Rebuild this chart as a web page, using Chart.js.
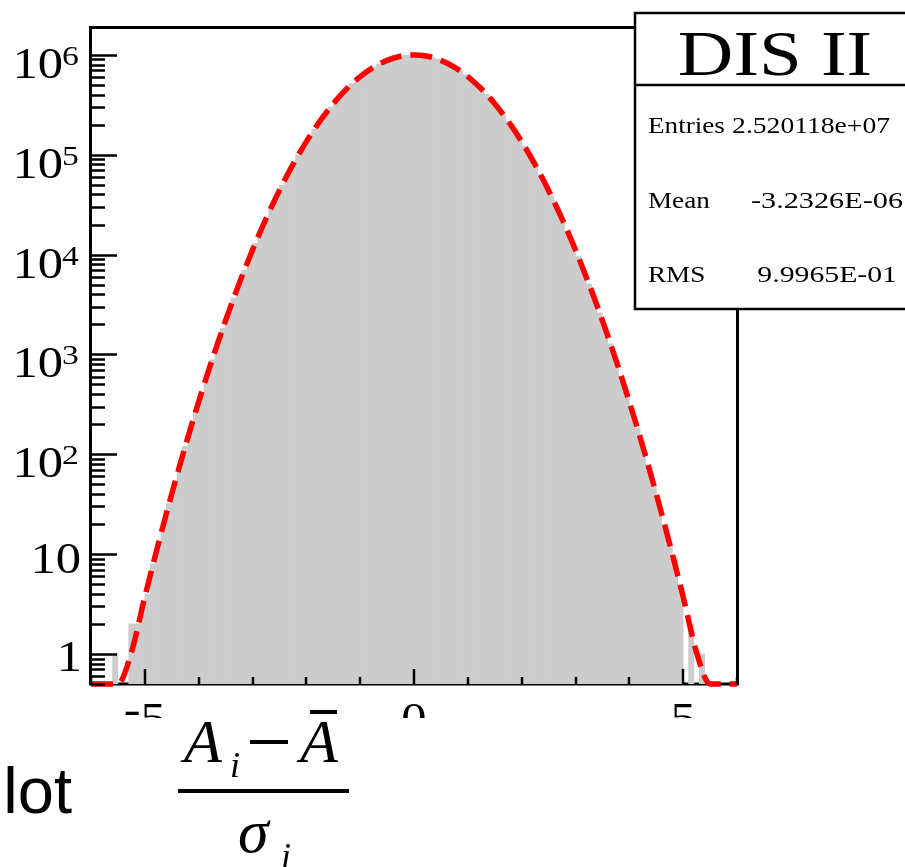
<!DOCTYPE html>
<html>
<head>
<meta charset="utf-8">
<script src="https://cdn.jsdelivr.net/npm/chart.js@4.4.1/dist/chart.umd.min.js"></script>
<style>
  html, body { margin: 0; padding: 0; background: #fff; overflow: hidden; }
  #wrap { width: 905px; height: 867px; position: relative; }
</style>
</head>
<body>
<div id="wrap"><canvas id="distChart" width="905" height="867"></canvas></div>
<script>
// histogram bins (width 0.1), empty bins are null
const binCenters = [
  -5.95, -5.85, -5.75, -5.65, -5.55, -5.45, -5.35, -5.25, -5.15, -5.05,
  -4.95, -4.85, -4.75, -4.65, -4.55, -4.45, -4.35, -4.25, -4.15, -4.05,
  -3.95, -3.85, -3.75, -3.65, -3.55, -3.45, -3.35, -3.25, -3.15, -3.05,
  -2.95, -2.85, -2.75, -2.65, -2.55, -2.45, -2.35, -2.25, -2.15, -2.05,
  -1.95, -1.85, -1.75, -1.65, -1.55, -1.45, -1.35, -1.25, -1.15, -1.05,
  -0.95, -0.85, -0.75, -0.65, -0.55, -0.45, -0.35, -0.25, -0.15, -0.05,
  0.05, 0.15, 0.25, 0.35, 0.45, 0.55, 0.65, 0.75, 0.85, 0.95,
  1.05, 1.15, 1.25, 1.35, 1.45, 1.55, 1.65, 1.75, 1.85, 1.95,
  2.05, 2.15, 2.25, 2.35, 2.45, 2.55, 2.65, 2.75, 2.85, 2.95,
  3.05, 3.15, 3.25, 3.35, 3.45, 3.55, 3.65, 3.75, 3.85, 3.95,
  4.05, 4.15, 4.25, 4.35, 4.45, 4.55, 4.65, 4.75, 4.85, 4.95,
  5.05, 5.15, 5.25, 5.35, 5.45, 5.55, 5.65, 5.75, 5.85, 5.95
];
const binCounts = [
  null, null, null, null, 1, null, null, 2, 2, 3,
  4, 8, 13, 20, 32, 50, 78, 120, 182, 274,
  409, 605, 884, 1280, 1835, 2603, 3657, 5086, 7004, 9552,
  12890, 17230, 22790, 29860, 38730, 49730, 63220, 79560, 99150, 122300,
  149400, 180700, 216300, 256300, 300800, 349500, 402000, 457800, 516200, 576200,
  636900, 696800, 754800, 809600, 859600, 903700, 940600, 969200, 988800, 998800,
  998800, 988800, 969200, 940600, 903700, 859600, 809600, 754800, 696800, 636900,
  576200, 516200, 457800, 402000, 349500, 300800, 256300, 216300, 180700, 149400,
  122300, 99150, 79560, 63220, 49730, 38730, 29860, 22790, 17230, 12890,
  9552, 7004, 5086, 3657, 2603, 1835, 1280, 884, 605, 409,
  274, 182, 120, 78, 50, 32, 20, 13, 9, 5,
  null, 2, null, 1, null, null, null, null, null, null
];

// fitted curve (red dashed), sampled every 0.25
const fitX = [
  -6, -5.75, -5.5, -5.25, -5, -4.75, -4.5, -4.25, -4, -3.75, -3.5, -3.25, -3,
  -2.75, -2.5, -2.25, -2, -1.75, -1.5, -1.25, -1, -0.75, -0.5, -0.25, 0,
  0.25, 0.5, 0.75, 1, 1.25, 1.5, 1.75, 2, 2.25, 2.5, 2.75,
  3, 3.25, 3.5, 3.75, 4, 4.25, 4.5, 4.75, 5, 5.25, 5.5, 5.75, 6
];
const fitY = [
  0.5, 0.5, 0.5, 1.03, 3.73, 12.6, 40.1, 119.6, 335, 884, 2187, 5086, 11110,
  22790, 43940, 79560, 135300, 216300, 324700, 457800, 606500, 754800, 882500, 969200, 1000000,
  969200, 882500, 754800, 606500, 457800, 324700, 216300, 135300, 79560, 43940, 22790,
  11110, 5086, 2187, 884, 335, 119.6, 40.1, 12.6, 3.73, 1.03, 0.5, 0.5, 0.5
];

// axes
const xMin = -6, xMax = 6;
const yMin = 0.5, yMax = 1.86e6;
const xMajorTicks = [-5, 0, 5];
const xMinorTicks = [-6, -5, -4, -3, -2, -1, 0, 1, 2, 3, 4, 5, 6];
const yMajorTicks = [1, 10, 100, 1000, 10000, 100000, 1000000];

// stats box
const statsTitle = 'DIS II';
const statsLabels = ['Entries', 'Mean', 'RMS'];
const statsValues = ['2.520118e+07', '-3.2326E-06', '9.9965E-01'];

const SERIF = '"Liberation Serif", "Times New Roman", serif';

function stretchText(ctx, txt, x, y, font, sx, align) {
  ctx.save();
  ctx.font = font;
  const w = ctx.measureText(txt).width * sx;
  let x0 = x;
  if (align === 'center') x0 = x - w / 2;
  else if (align === 'right') x0 = x - w;
  ctx.translate(x0, y);
  ctx.scale(sx, 1);
  ctx.textAlign = 'left';
  ctx.textBaseline = 'alphabetic';
  ctx.fillStyle = '#000';
  ctx.fillText(txt, 0, 0);
  ctx.restore();
  return w;
}

// frame drawn under the histogram, ticks and texts on top
const framePlugin = {
  id: 'frame',
  beforeDatasetsDraw(chart) {
    const { ctx, chartArea: a } = chart;
    ctx.save();
    ctx.strokeStyle = '#000';
    ctx.lineWidth = 3;
    ctx.strokeRect(a.left - 0.5, a.top - 0.5, a.right - a.left + 1, a.bottom - a.top + 0.5);
    ctx.restore();
  },
  afterDatasetsDraw(chart) {
    const { ctx, chartArea: a } = chart;
    const xs = chart.scales.x, ys = chart.scales.y;
    ctx.save();
    ctx.strokeStyle = '#000';
    ctx.lineWidth = 2.5;
    ctx.beginPath();
    // y ticks, inside the frame
    for (let e = -1; e <= 6; e++) {
      for (let m = 1; m <= 9; m++) {
        const v = m * Math.pow(10, e);
        if (v < yMin || v > yMax) continue;
        const py = Math.round(ys.getPixelForValue(v)) + 0.5;
        const len = m === 1 ? 26 : 14;
        ctx.moveTo(a.left, py);
        ctx.lineTo(a.left + len, py);
      }
    }
    // x ticks
    xMinorTicks.forEach(v => {
      const px = Math.round(xs.getPixelForValue(v));
      const len = xMajorTicks.includes(v) ? 15 : 7;
      ctx.moveTo(px, a.bottom);
      ctx.lineTo(px, a.bottom - len);
    });
    ctx.stroke();
    ctx.restore();
  },
  afterDraw(chart) {
    const { ctx } = chart;
    const xs = chart.scales.x, ys = chart.scales.y;

    // y labels
    yMajorTicks.forEach(v => {
      const e = Math.round(Math.log10(v));
      const py = ys.getPixelForValue(v);
      if (e === 0) {
        stretchText(ctx, '1', 82, py + 17, '44px ' + SERIF, 1.15, 'right');
      } else if (e === 1) {
        stretchText(ctx, '10', 81, py + 19, '44px ' + SERIF, 1.15, 'right');
      } else {
        stretchText(ctx, '10', 63, py + 23, '44px ' + SERIF, 1.15, 'right');
        stretchText(ctx, String(e), 62, py + 10, '28px ' + SERIF, 1.2, 'left');
      }
    });

    // x labels (minus sits a bit higher than a plain hyphen)
    xMajorTicks.forEach(v => {
      const px = xs.getPixelForValue(v);
      const font = '44px ' + SERIF;
      if (v < 0) {
        ctx.save();
        ctx.font = font;
        const wm = ctx.measureText('-').width * 1.15;
        const wd = ctx.measureText(String(-v)).width * 1.15;
        ctx.restore();
        const x0 = px - (wm + wd) / 2;
        stretchText(ctx, '-', x0, 724, font, 1.15, 'left');
        stretchText(ctx, String(-v), x0 + wm, 733, font, 1.15, 'left');
      } else {
        stretchText(ctx, String(v), px, 733, font, 1.15, 'center');
      }
    });

    // overlaid slide content hides the lower part of the labels
    ctx.save();
    ctx.fillStyle = '#fff';
    ctx.fillRect(0, 718, 905, 149);
    ctx.restore();

    // "Plot" text on the slide
    ctx.save();
    ctx.fillStyle = '#000';
    ctx.font = '65px "Liberation Sans", Arial, sans-serif';
    ctx.textBaseline = 'alphabetic';
    ctx.fillText('Plot', -40, 813);

    // x axis formula (A_i - Abar) / sigma_i
    const it = 'italic 62px ' + SERIF;
    const itSmall = 'italic 36px ' + SERIF;
    ctx.font = it;
    ctx.fillText('A', 184, 762);
    ctx.font = itSmall;
    ctx.fillText('i', 230, 777);
    ctx.fillRect(250, 740, 38, 4);
    ctx.font = it;
    ctx.fillText('A', 300, 762);
    ctx.fillRect(310, 710, 27, 4);
    ctx.fillRect(178, 789, 171, 4);
    ctx.fillText('\u03C3', 238, 852);
    ctx.font = itSmall;
    ctx.fillText('i', 281, 868);
    ctx.restore();

    // stats box
    ctx.save();
    ctx.fillStyle = '#fff';
    ctx.fillRect(635, 13, 290, 296);
    ctx.strokeStyle = '#000';
    ctx.lineWidth = 2.5;
    ctx.strokeRect(635, 13, 290, 296);
    ctx.beginPath();
    ctx.moveTo(635, 85);
    ctx.lineTo(905, 85);
    ctx.stroke();
    ctx.restore();
    stretchText(ctx, statsTitle, 775, 75, '63px ' + SERIF, 1.22, 'center');
    const rowY = [133, 208, 282];
    const valRight = [890, 903, 897];
    const valSx = [1.15, 1.26, 1.24];
    statsLabels.forEach((lab, i) => {
      stretchText(ctx, lab, 648, rowY[i], '24px ' + SERIF, 1.13, 'left');
      stretchText(ctx, statsValues[i], valRight[i], rowY[i], '24px ' + SERIF, valSx[i], 'right');
    });
  }
};

document.addEventListener('DOMContentLoaded', function() {
  const ctx = document.getElementById('distChart').getContext('2d');
  new Chart(ctx, {
    type: 'bar',
    data: {
      datasets: [{
        type: 'line',
        label: 'fit',
        data: fitX.map((x, i) => ({ x: x, y: fitY[i] })),
        borderColor: '#ff0000',
        borderWidth: 5.5,
        borderDash: [22, 9],
        pointRadius: 0,
        cubicInterpolationMode: 'monotone',
        fill: false,
        clip: { left: 3, top: 0, right: 3, bottom: 4 },
        order: 0
      }, {
        type: 'bar',
        label: 'hist',
        data: binCenters.map((x, i) => ({ x: x, y: binCounts[i] })),
        backgroundColor: '#cccccc',
        borderWidth: 0,
        barPercentage: 1,
        categoryPercentage: 1,
        order: 1
      }]
    },
    options: {
      responsive: false,
      animation: false,
      events: [],
      layout: {
        padding: { left: 91, top: 28, right: 168, bottom: 183 }
      },
      plugins: {
        legend: { display: false },
        tooltip: { enabled: false }
      },
      scales: {
        x: {
          type: 'linear',
          min: xMin,
          max: xMax,
          offset: false,
          display: false
        },
        y: {
          type: 'logarithmic',
          min: yMin,
          max: yMax,
          display: false
        }
      }
    },
    plugins: [framePlugin]
  });
});
</script>
</body>
</html>
